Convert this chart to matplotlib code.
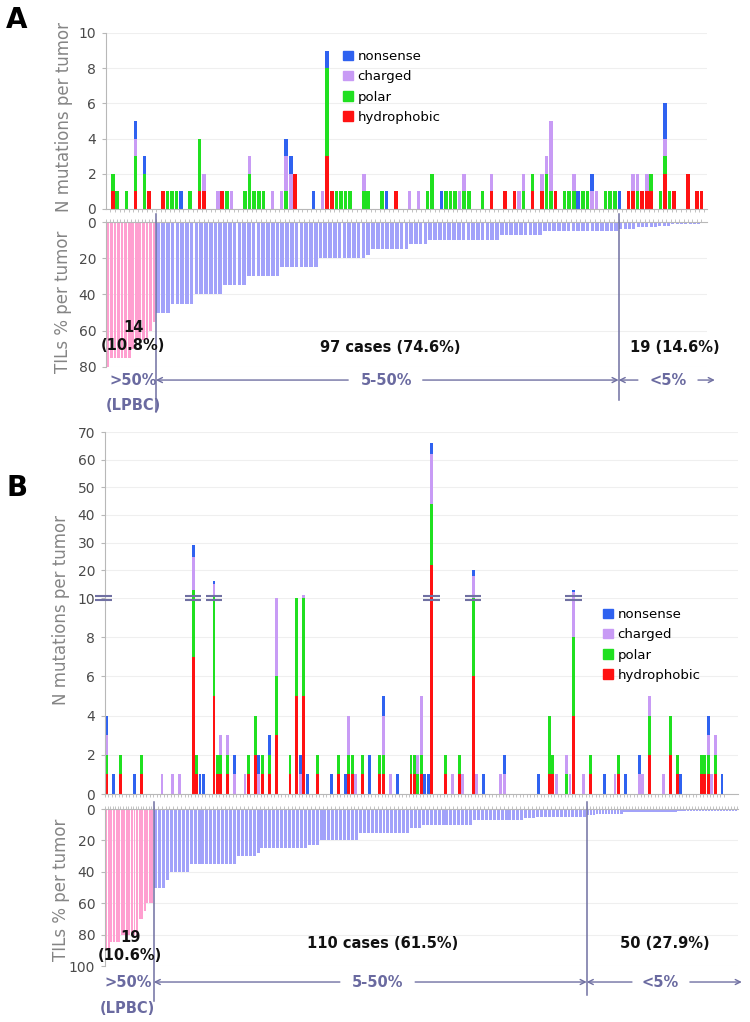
import numpy as np
import matplotlib.pyplot as plt
from matplotlib.patches import Patch

# colours
C_HYD, C_POL, C_CHG, C_NON = '#ff1212', '#20e020', '#c89bf5', '#2f62f0'
C_LPBC, C_TIL = '#ff9fd0', '#a2a2fa'
C_ANN, C_GRID, C_AX = '#7070a2', '#efefef', '#b8b8b8'

categories = ['nonsense', 'charged', 'polar', 'hydrophobic']
range_text = ['>50%', '5-50%', '<5%']

# ---------------- panel A : 130 tumours ----------------
a_hydro = [1,0,0,0,0,1,0,0,1,0, 0,1,0,0,0,0,0,0,0,1, 1,0,0,0,1,0,0,0,0,0,
           0,0,0,0,0,0,0,0,0,0, 2,0,0,0,0,0,0,3,1,0, 0,0,0,0,0,0,0,0,0,0,
           0,0,1,0,0,0,0,0,0,0, 0,0,0,0,0,0,0,0,0,0, 0,0,0,1,0,0,1,0,1,0,
           0,0,1,0,1,0,0,1,0,0, 0,0,0,0,0,0,0,0,0,0, 0,0,0,1,1,0,1,1,1,0,
           0,2,0,1,0,0,2,0,1,1]
a_polar = [1,1,0,1,0,2,0,2,0,0, 0,0,1,1,1,0,0,1,0,3, 0,0,0,0,0,1,0,0,0,1,
           2,1,1,1,0,0,0,0,1,0, 0,0,0,0,0,0,0,5,0,1, 1,1,1,0,0,1,1,0,0,1,
           0,0,0,0,0,0,0,0,0,1, 2,0,0,1,1,1,0,1,1,0, 0,1,0,0,0,0,0,0,0,0,
           1,0,1,0,0,2,1,0,0,1, 1,1,0,1,1,0,0,0,1,1, 1,0,0,0,0,1,0,0,1,0,
           1,1,1,0,0,0,0,0,0,0]
a_charged = [0,0,0,0,0,1,0,0,0,0, 0,0,0,0,0,0,0,0,0,0, 1,0,0,1,0,0,1,0,0,0,
             1,0,0,0,0,1,0,1,2,2, 0,0,0,0,0,0,1,0,0,0, 0,0,0,0,0,1,0,0,0,0,
             0,0,0,0,0,1,0,1,0,0, 0,0,0,0,0,0,1,1,0,0, 0,0,0,1,0,0,0,0,0,1,
             1,0,0,0,1,1,4,0,0,0, 0,1,0,0,0,1,1,0,0,0, 0,0,0,0,1,1,0,1,0,0,
             0,1,0,0,0,0,0,0,0,0]
a_nonsense = [0,0,0,0,0,1,0,1,0,0, 0,0,0,0,0,1,0,0,0,0, 0,0,0,0,0,0,0,0,0,0,
              0,0,0,0,0,0,0,0,1,1, 0,0,0,0,1,0,0,1,0,0, 0,0,0,0,0,0,0,0,0,0,
              1,0,0,0,0,0,0,0,0,0, 0,0,1,0,0,0,0,0,0,0, 0,0,0,0,0,0,0,0,0,0,
              0,0,0,0,0,0,0,0,0,0, 0,0,1,0,0,1,0,0,0,0, 0,1,0,0,0,0,0,0,0,0,
              0,2,0,0,0,0,0,0,0,0]
a_til = [80,75,75,75,75,75,75,70,65,65,65,65,60,55,
         50,50,50,45,45,45,45,45,40,40,40,40,40,40,35,35,35,35,35,
         30,30,30,30,30,30,30,25,25,25,25,25,25,25,25,
         20,20,20,20,20,20,20,20,20,20,18,15,15,15,15,15,15,15,15,
         12,12,12,12,10,10,10,10,10,10,10,10,10,10,10,10,10,10,10,
         7,7,7,7,7,7,7,7,7,5,5,5,5,5,5,5,5,5,5,5,5,5,5,5,5,
         4,4,4,4,3,3,3,3,3,2,2,2,1,1,1,1,1,1,1]
a_groups = [14, 97, 19]
a_group_text = ['14\n(10.8%)', '97 cases (74.6%)', '19 (14.6%)']

# ---------------- panel B : 179 tumours ----------------
b_hydro = [1,0,0,0,1,0,0,0,0,0, 1,0,0,0,0,0,0,0,0,0, 0,0,0,0,0,7,1,0,0,0,
           0,5,1,1,0,1,0,0,0,0, 0,1,0,2,0,1,0,1,0,3, 0,0,0,1,0,5,0,5,0,0,
           0,1,0,0,0,0,0,1,0,0, 1,1,0,0,1,0,0,0,0,1, 1,0,0,0,0,0,0,0,1,1,
           0,1,0,0,22,0,0,0,1,0, 0,0,1,0,0,0,6,0,0,0, 0,0,0,0,0,0,0,0,0,0,
           0,0,0,0,0,0,0,0,1,1, 0,0,0,0,0,4,0,0,0,0, 1,0,0,0,0,0,0,0,1,0,
           0,0,0,0,0,0,0,2,0,0, 0,0,0,2,0,1,0,0,0,0, 0,0,1,1,1,0,1,0,0]
b_polar = [1,0,0,0,1,0,0,0,0,0, 1,0,0,0,0,0,0,0,0,0, 0,0,0,0,0,6,1,0,0,0,
           0,6,1,1,0,1,0,0,0,0, 0,1,0,2,0,1,0,1,0,3, 0,0,0,1,0,5,0,5,0,0,
           0,1,0,0,0,0,0,1,0,0, 1,1,0,0,1,0,0,0,0,1, 1,0,0,0,0,0,0,0,1,1,
           1,1,0,0,22,0,0,0,1,0, 0,0,1,0,0,0,4,0,0,0, 0,0,0,0,0,0,0,0,0,0,
           0,0,0,0,0,0,0,0,3,1, 0,0,0,1,0,4,0,0,0,0, 1,0,0,0,0,0,0,0,1,0,
           0,0,0,0,0,0,0,2,0,0, 0,0,0,2,0,1,0,0,0,0, 0,0,1,1,1,0,1,0,0]
b_charged = [1,0,0,0,0,0,0,0,0,0, 0,0,0,0,0,0,1,0,0,1, 0,1,0,0,0,12,0,0,0,0,
             0,4,0,1,0,1,0,1,0,0, 1,0,0,0,1,0,0,0,0,4, 0,0,0,0,0,0,1,1,0,0,
             0,0,0,0,0,0,0,0,0,0, 2,0,1,0,0,0,0,0,0,0, 2,0,1,0,0,0,0,0,0,0,
             1,3,0,0,18,0,0,0,0,0, 1,0,0,1,0,0,8,1,0,0, 0,0,0,0,1,1,0,0,0,0,
             0,0,0,0,0,0,0,0,0,0, 1,0,0,1,1,4,0,0,1,0, 0,0,0,0,0,0,0,1,0,0,
             0,0,0,0,1,1,0,1,0,0, 0,1,0,0,0,0,0,0,0,0, 0,0,0,0,1,1,1,0,0]
b_nonsense = [1,0,1,0,0,0,0,0,1,0, 0,0,0,0,0,0,0,0,0,0, 0,0,0,0,0,4,0,1,1,0,
              0,1,0,0,0,0,0,1,0,0, 0,0,0,0,1,0,0,1,0,0, 0,0,0,0,0,0,1,0,1,0,
              0,0,0,0,0,1,0,0,0,1, 0,0,0,0,0,0,2,0,0,0, 1,0,0,0,1,0,0,0,0,0,
              0,0,1,1,4,0,0,0,0,0, 0,0,0,0,0,0,2,0,0,1, 0,0,0,0,0,1,0,0,0,0,
              0,0,0,0,0,1,0,0,0,0, 0,0,0,0,0,1,0,0,0,0, 0,0,0,0,1,0,0,0,0,0,
              1,0,0,0,1,0,0,0,0,0, 0,0,0,0,0,0,1,0,0,0, 0,0,0,0,1,0,0,0,1]
b_til = [90,90,85,85,85,85,80,80,80,80,80,80,80,70,70,65,60,60,60,
         50,50,50,45,40,40,40,40,40,35,35,35,35,35,35,35,35,35,35,35,35,
         30,30,30,30,30,28,25,25,25,25,25,25,25,25,25,25,25,25,23,23,23,
         20,20,20,20,20,20,20,20,20,20,15,15,15,15,15,15,15,15,15,15,15,15,15,
         12,12,12,10,10,10,10,10,10,10,10,10,10,10,10,10,
         7,7,7,7,7,7,7,7,7,7,7,7,7,6,6,6,5,5,5,5,5,5,5,5,5,5,5,5,5,
         4,4,4,3,3,3,3,3,3,3,3,3,2,2,2,2,2,2,2,2,2,2,2,2,2,2,2,2,2,2,
         1,1,1,1,1,1,1,1,1,1,1,1,1,1,1,1,1,1,1,1]
b_groups = [19, 110, 50]
b_group_text = ['19\n(10.6%)', '110 cases (61.5%)', '50 (27.9%)']

W, H = 750, 1022
fig = plt.figure(figsize=(W / 100, H / 100), dpi=100)


def px_axes(x0, y0, x1, y1):
    return fig.add_axes([x0 / W, 1 - y1 / H, (x1 - x0) / W, (y1 - y0) / H])


def stacked(ax, layers):
    n = len(layers[0])
    x = np.arange(n)
    bottom = np.zeros(n)
    for vals, col in zip(layers, [C_HYD, C_POL, C_CHG, C_NON]):
        v = np.asarray(vals, float)
        ax.bar(x, v, 0.8, bottom=bottom, color=col, linewidth=0, zorder=2)
        bottom += v
    ax.set_xticks(np.arange(n + 1) - 0.5)
    ax.set_xticklabels([])
    return bottom


def style(ax, yticks, show_top=False, show_bottom=True):
    ax.set_yticks(yticks)
    ax.grid(axis='y', color=C_GRID, lw=0.8, zorder=0)
    ax.spines['right'].set_visible(False)
    ax.spines['top'].set_visible(show_top)
    ax.spines['bottom'].set_visible(show_bottom)
    for s in ('left', 'top', 'bottom'):
        ax.spines[s].set_color(C_AX)
    ax.tick_params(axis='y', length=3, pad=4, color=C_AX, labelsize=10, labelcolor='#4a4a4a')
    ax.tick_params(axis='x', length=2, width=0.6, color=C_AX,
                   top=show_top, bottom=show_bottom and not show_top, labelbottom=False)


def til_panel(ax, vals, groups, spans, ymax, yticks):
    lefts, widths = [], []
    start = 0.0
    for n, span in zip(groups, spans):
        slot = span / n
        lefts.append(start + slot * np.arange(n))
        widths.append(np.full(n, slot))
        start += span
    lefts, widths = np.concatenate(lefts), np.concatenate(widths)
    colors = [C_LPBC] * groups[0] + [C_TIL] * (len(vals) - groups[0])
    ax.bar(lefts + 0.12 * widths, vals, 0.76 * widths, align='edge',
           color=colors, linewidth=0, zorder=2)
    ax.set_xlim(0, 1)
    ax.set_ylim(ymax, 0)
    style(ax, yticks, show_top=True, show_bottom=False)
    ax.set_xticks(np.append(lefts, start))
    ax.set_xticklabels([])
    return [spans[0], spans[0] + spans[1]]


def arrow(ax, x_from, x_to, y):
    ax.annotate('', xy=(x_to, y), xytext=(x_from, y), annotation_clip=False,
                arrowprops=dict(arrowstyle='->', color=C_ANN, lw=1.0,
                                shrinkA=0, shrinkB=0, mutation_scale=9))


def ranges(ax, seps, y_arr, y_lpbc, sep_ends, xs):
    # xs: >50% text, left arrow tail, 5-50% text, right arrow tail,
    #     <5% arrow tail, <5% text, last arrow tail, last arrow head
    for sx, yb in zip(seps, sep_ends):
        ax.plot([sx, sx], [sep_ends[2], yb], color=C_ANN, lw=1.1, clip_on=False, zorder=4)
    kw = dict(ha='center', va='center', color='#6a6aa0', fontsize=10.5, weight='bold')
    ax.text(xs[0], y_arr, range_text[0], **kw)
    ax.text(xs[0], y_lpbc, '(LPBC)', **kw)
    arrow(ax, xs[1], seps[0], y_arr)
    ax.text(xs[2], y_arr, range_text[1], **kw)
    arrow(ax, xs[3], seps[1], y_arr)
    arrow(ax, xs[4], seps[1], y_arr)
    ax.text(xs[5], y_arr, range_text[2], **kw)
    arrow(ax, xs[6], xs[7], y_arr)


def group_labels(ax, texts, pos):
    for t, (x, y) in zip(texts, pos):
        ax.text(x, y, t, ha='center', va='center', fontsize=10.5, weight='bold',
                color='#111111', linespacing=1.25, zorder=5)


def ylabel(x, y, t):
    fig.text(x / W, 1 - y / H, t, rotation=90, ha='center', va='center',
             fontsize=12, color='#858585')


handles = [Patch(color=c) for c in [C_NON, C_CHG, C_POL, C_HYD]]
leg_kw = dict(loc='upper left', frameon=False, fontsize=9.5, handlelength=0.75,
              handleheight=0.75, handletextpad=0.35, labelspacing=0.55,
              borderpad=0, borderaxespad=0)

# ---------------- panel A ----------------
axA = px_axes(106, 33, 707, 209)
stacked(axA, [a_hydro, a_polar, a_charged, a_nonsense])
axA.set_xlim(-1.47, 130.2)
axA.set_ylim(0, 10)
style(axA, [0, 2, 4, 6, 8, 10])
fig.legend(handles, categories, bbox_to_anchor=(343 / W, 1 - 50 / H), **leg_kw)

axA2 = px_axes(106, 222, 707, 367)
sepA = til_panel(axA2, a_til, a_groups, [0.083, 0.770, 0.137], 80, [0, 20, 40, 60, 80])
ranges(axA2, sepA, 87.2, 101, [105, 98, -4.4],
       [0.046, 0.403, 0.4675, 0.527, 0.885, 0.935, 0.985, 1.013])
group_labels(axA2, a_group_text, [(0.045, 63.4), (0.4725, 69.5), (0.947, 69.5)])

# ---------------- panel B (broken axis) ----------------
axBh = px_axes(105, 432, 738, 598)
axBl = px_axes(105, 598, 738, 794)
layers_b = [b_hydro, b_polar, b_charged, b_nonsense]
stacked(axBh, layers_b)
total_b = stacked(axBl, layers_b)
for ax in (axBh, axBl):
    ax.set_xlim(-0.5, 182.6)
axBh.set_ylim(10, 70)
axBl.set_ylim(0, 10)
style(axBh, [20, 30, 40, 50, 60, 70], show_bottom=False)
axBh.tick_params(axis='x', bottom=False)
style(axBl, [0, 2, 4, 6, 8, 10])
# break marks on the axis and on the bars that continue above 10
for xb, half in [(-1.0, 2.4)] + [(i, 2.4) for i in np.where(total_b > 11.5)[0]]:
    for yy in (9.89, 10.11):
        axBl.plot([xb - half, xb + half], [yy, yy], color=C_ANN, lw=1.5,
                  clip_on=False, zorder=6, solid_capstyle='butt')
fig.legend(handles, categories, bbox_to_anchor=(603 / W, 1 - 608 / H), **leg_kw)

axB2 = px_axes(105, 809, 738, 966)
sepB = til_panel(axB2, b_til, b_groups, [0.077, 0.684, 0.238], 100, [0, 20, 40, 60, 80, 100])
ranges(axB2, sepB, 110.2, 126.8, [122, 118.5, -4.5],
       [0.036, 0.371, 0.43, 0.49, 0.8325, 0.877, 0.924, 1.006])
group_labels(axB2, b_group_text, [(0.0395, 87.3), (0.439, 85.4), (0.885, 85.4)])

# labels
ylabel(64, 117, 'N mutations per tumor')
ylabel(63, 302, 'TILs % per tumor')
ylabel(61, 610, 'N mutations per tumor')
ylabel(61, 890, 'TILs % per tumor')
fig.text(17 / W, 1 - 20 / H, 'A', fontsize=20, weight='bold', ha='center', va='center')
fig.text(17 / W, 1 - 488 / H, 'B', fontsize=20, weight='bold', ha='center', va='center')

fig.savefig('out.png', dpi=100)
